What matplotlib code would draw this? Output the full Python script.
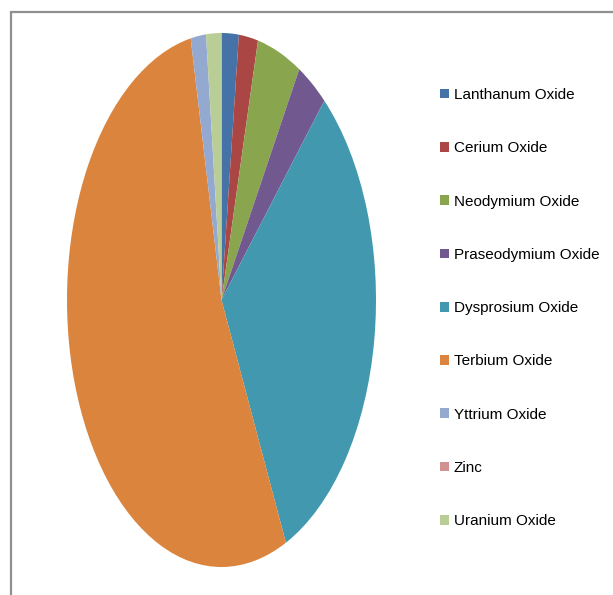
import matplotlib
matplotlib.use("Agg")
import matplotlib.pyplot as plt
from matplotlib.patches import Rectangle

categories = ["Lanthanum Oxide", "Cerium Oxide", "Neodymium Oxide", "Praseodymium Oxide",
              "Dysprosium Oxide", "Terbium Oxide", "Yttrium Oxide", "Zinc", "Uranium Oxide"]
values = [1.8, 2.0, 4.6, 3.2, 31.6, 53.7, 1.6, 0.0, 1.6]
colors = ["#4572A7", "#AA4643", "#89A54E", "#71588F", "#4198AF",
          "#DB843D", "#93A9CF", "#D19392", "#B9CD96"]

W, H = 613, 595
fig = plt.figure(figsize=(W / 100, H / 100), dpi=100)

# outer frame
fig.patches.append(Rectangle((11 / W, -0.1), 1.2, (H - 12) / H + 0.1, transform=fig.transFigure,
                             fill=False, edgecolor="#909090", linewidth=1.6))

cx, cy, a, b = 221.5, 300, 154.5, 267
ax = fig.add_axes([(cx - a) / W, (H - cy - b) / H, 2 * a / W, 2 * b / H])
wedges, _ = ax.pie(values, colors=colors, startangle=90, counterclock=False,
                   wedgeprops=dict(linewidth=0))
ax.set_aspect("auto")
ax.set_xlim(-1, 1)
ax.set_ylim(-1, 1)
ax.axis("off")

handles = [Rectangle((0, 0), 1, 1, facecolor=c, edgecolor="none") for c in colors]
fig.legend(handles, categories, loc="upper left", bbox_to_anchor=(440 / W, 1 - 88 / H),
           frameon=False, prop=dict(family=["Liberation Sans", "DejaVu Sans"], size=11),
           handlelength=0.6, handleheight=0.6, handletextpad=0.3, labelspacing=2.57,
           borderaxespad=0, borderpad=0)

fig.savefig("out.png", dpi=100)
